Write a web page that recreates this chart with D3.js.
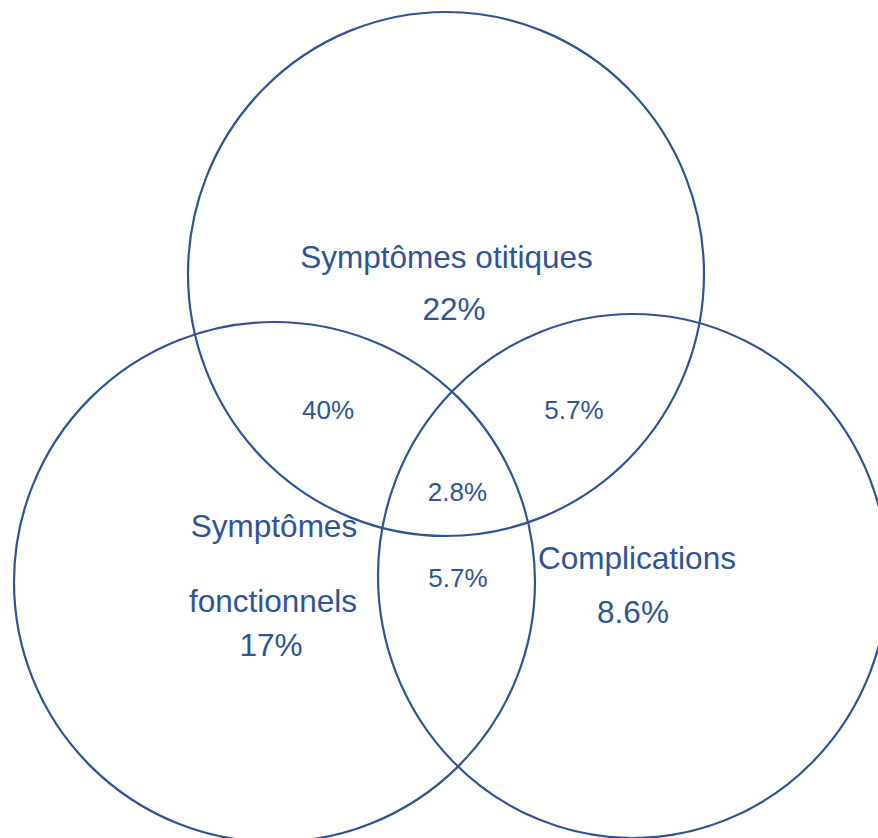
<!DOCTYPE html>
<html>
<head>
<meta charset="utf-8">
<script src="https://cdn.jsdelivr.net/npm/d3@7"></script>
<style>
  body { margin: 0; background: #fff; }
  svg { display: block; }
  text { font-family: "Liberation Sans", Arial, sans-serif; fill: #2f5496; }
</style>
</head>
<body>
<svg id="chart" width="878" height="838"></svg>
<script>
// set names and region shares (%)
const sets = ["Symptômes otitiques", "Symptômes fonctionnels", "Complications"];
const onlyValues = [22, 17, 8.6];
const pairKeys = ["otitiques+fonctionnels", "otitiques+complications", "fonctionnels+complications"];
const pairValues = [40, 5.7, 5.7];
const allThree = 2.8;

const fmt = v => (Number.isInteger(v) ? v : v.toFixed(1)) + "%";

const svg = d3.select("#chart");
const color = "#2f5496";

// layout of the three ellipses (px)
const circles = [
  { cx: 446, cy: 274, rx: 258, ry: 262 },
  { cx: 274.5, cy: 582, rx: 260.5, ry: 260 },
  { cx: 633, cy: 576, rx: 255, ry: 262 }
];

svg.selectAll("ellipse")
  .data(circles)
  .enter()
  .append("ellipse")
  .attr("cx", d => d.cx)
  .attr("cy", d => d.cy)
  .attr("rx", d => d.rx)
  .attr("ry", d => d.ry)
  .attr("fill", "none")
  .attr("stroke", color)
  .attr("stroke-width", 2.2);

// set name labels (lines split as in the original)
const nameLines = [
  [{ t: sets[0], x: 446.5, y: 268 }],
  [{ t: "Symptômes", x: 274, y: 537 }, { t: "fonctionnels", x: 273, y: 612 }],
  [{ t: sets[2], x: 637, y: 569 }]
];
const onlyPos = [{ x: 454, y: 320 }, { x: 271, y: 656 }, { x: 633, y: 623 }];
const pairPos = [{ x: 328, y: 419 }, { x: 574, y: 419 }, { x: 458, y: 587 }];
const centerPos = { x: 457.5, y: 501 };

svg.selectAll("text.name")
  .data(nameLines.flat())
  .enter()
  .append("text")
  .attr("class", "name")
  .attr("x", d => d.x)
  .attr("y", d => d.y)
  .attr("text-anchor", "middle")
  .style("font-size", "31.5px")
  .text(d => d.t);

svg.selectAll("text.only")
  .data(onlyValues)
  .enter()
  .append("text")
  .attr("class", "only")
  .attr("x", (d, i) => onlyPos[i].x)
  .attr("y", (d, i) => onlyPos[i].y)
  .attr("text-anchor", "middle")
  .style("font-size", "31.5px")
  .text(d => fmt(d));

svg.selectAll("text.pair")
  .data(pairValues)
  .enter()
  .append("text")
  .attr("class", "pair")
  .attr("x", (d, i) => pairPos[i].x)
  .attr("y", (d, i) => pairPos[i].y)
  .attr("text-anchor", "middle")
  .style("font-size", "26px")
  .text(d => fmt(d));

svg.append("text")
  .attr("x", centerPos.x)
  .attr("y", centerPos.y)
  .attr("text-anchor", "middle")
  .style("font-size", "26px")
  .text(fmt(allThree));
</script>
</body>
</html>
